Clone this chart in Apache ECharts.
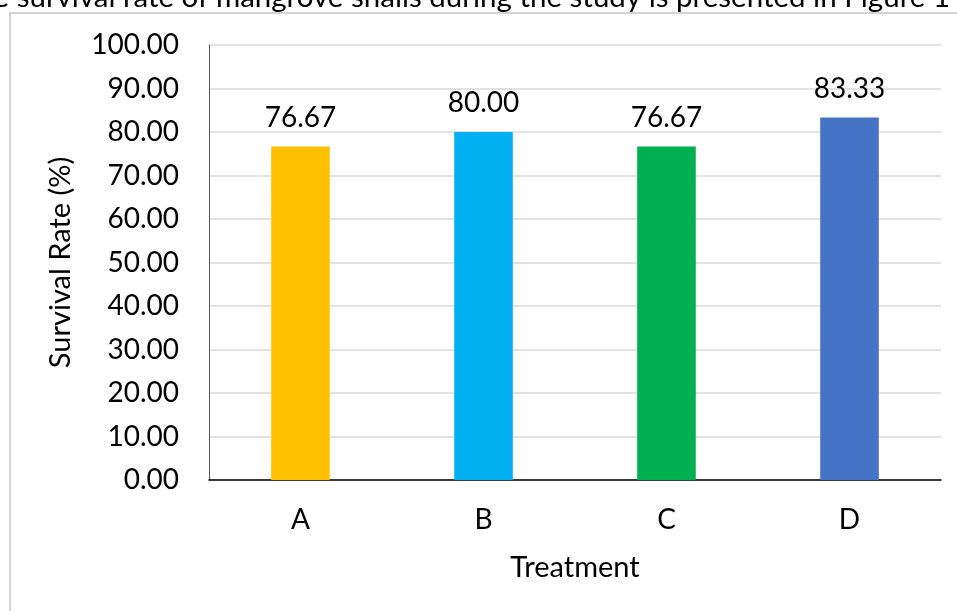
<!DOCTYPE html>
<html>
<head>
<meta charset="utf-8">
<script src="https://cdn.jsdelivr.net/npm/echarts@6/dist/echarts.min.js"></script>
<style>
  html, body { margin: 0; padding: 0; background: #fff; }
  #chart { width: 957px; height: 611px; }
</style>
</head>
<body>
<div id="chart"></div>
<script>
  // data
  const treatments = ['A', 'B', 'C', 'D'];
  const survivalRate = [76.67, 80.00, 76.67, 83.33];
  const barColors = ['#FFC000', '#00B0F0', '#00B050', '#4472C4'];

  const font = 'Lato, "Noto Sans", sans-serif';

  const chart = echarts.init(document.getElementById('chart'));
  const option = {
    animation: false,
    backgroundColor: '#fff',
    textStyle: { fontFamily: font },
    graphic: [
      {
        // cropped caption line from the page above the figure
        type: 'text',
        right: 7,
        top: -18,
        style: {
          text: 'e survival rate of mangrove snails during the study is presented in Figure 1',
          font: '29.5px ' + font,
          fill: '#000'
        }
      },
      {
        type: 'polyline',
        shape: { points: [[10, 611], [10, 13], [957, 13]] },
        style: { stroke: '#d4d4d4', lineWidth: 2, fill: null }
      }
    ],
    grid: { left: 209, right: 16, top: 45, bottom: 131 },
    xAxis: {
      type: 'category',
      data: treatments,
      name: 'Treatment',
      nameLocation: 'middle',
      nameGap: 73,
      nameTextStyle: { fontSize: 29, color: '#000', fontFamily: font },
      axisLine: { lineStyle: { color: '#000', width: 1.5 } },
      axisTick: { show: false },
      axisLabel: { fontSize: 28, color: '#000', margin: 26, fontFamily: font }
    },
    yAxis: {
      type: 'value',
      min: 0,
      max: 100,
      interval: 10,
      name: 'Survival Rate (%)',
      nameLocation: 'middle',
      nameRotate: 90,
      nameGap: 134,
      nameTextStyle: { fontSize: 29, color: '#000', fontFamily: font },
      axisLine: { show: true, lineStyle: { color: '#595959', width: 1 } },
      axisTick: { show: false },
      axisLabel: {
        fontSize: 28, color: '#000', margin: 30, fontFamily: font,
        formatter: v => v.toFixed(2)
      },
      splitLine: { lineStyle: { color: '#d9d9d9', width: 1.5 } }
    },
    series: [
      {
        type: 'bar',
        barWidth: '32%',
        data: survivalRate.map((v, i) => ({ value: v, itemStyle: { color: barColors[i] } })),
        label: {
          show: true,
          position: 'top',
          distance: 15,
          fontSize: 28,
          color: '#000',
          fontFamily: font,
          formatter: p => p.value.toFixed(2)
        }
      }
    ]
  };
  chart.setOption(option);
</script>
</body>
</html>
